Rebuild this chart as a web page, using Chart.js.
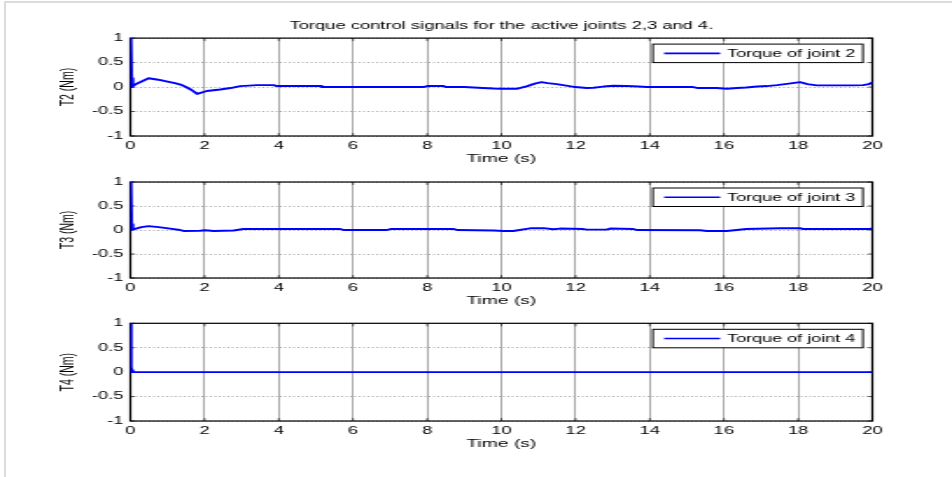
<!DOCTYPE html>
<html>
<head>
<meta charset="utf-8">
<title>Torque control signals</title>
<script src="https://cdn.jsdelivr.net/npm/chart.js@4.4.1/dist/chart.umd.min.js"></script>
<style>
  html, body { margin: 0; padding: 0; background: #fff; }
  #figure { position: relative; width: 952px; height: 477px; overflow: hidden; background: #fff; }
  #figure canvas { position: absolute; left: 0; }
  .edge-top { position: absolute; left: 4px; top: 1px; width: 948px; height: 2px; background: #dcdcdc; }
  .edge-left { position: absolute; left: 4px; top: 1px; width: 2px; height: 476px; background: #dcdcdc; }
</style>
</head>
<body>
<div id="figure">
  <div class="edge-top"></div>
  <div class="edge-left"></div>
  <!-- the original figure is stretched sideways, so the canvases are drawn narrow and widened by CSS -->
  <canvas id="plotT2" width="544" height="170" style="top:0px;width:952px;height:170px"></canvas>
  <canvas id="plotT3" width="544" height="143" style="top:170px;width:952px;height:143px"></canvas>
  <canvas id="plotT4" width="544" height="164" style="top:313px;width:952px;height:164px"></canvas>
</div>
<script>
// data
const timeT2 = [0, 0.01, 0.03, 0.05, 0.07, 0.2, 0.49, 0.75, 1.0, 1.2, 1.35, 1.5, 1.65, 1.8, 2.06, 2.42, 2.7, 2.96, 3.2, 3.41,
  3.86, 3.95, 5.12, 5.16, 7.9, 8.0, 8.44, 8.5, 9.0, 9.25, 9.5, 9.79, 10.0, 10.41, 10.7, 10.9, 11.08, 11.25, 11.49, 11.75,
  11.99, 12.3, 12.48, 12.75, 13.02, 13.38, 13.7, 13.92, 15.17, 15.3, 15.8, 16.08, 16.35, 16.6, 16.89, 17.15, 17.43, 17.75,
  18.05, 18.25, 18.5, 19.04, 19.5, 19.75, 19.9, 20.0];
const torqueT2 = [0, 1.0, 0.18, 0.0, 0.02, 0.08, 0.18, 0.15, 0.11, 0.08, 0.05, 0.0, -0.06, -0.14, -0.08, -0.05, -0.02, 0.02, 0.03, 0.04,
  0.04, 0.02, 0.02, 0.0, 0.0, 0.02, 0.02, 0.0, 0.0, -0.01, -0.02, -0.03, -0.035, -0.035, 0.02, 0.07, 0.1, 0.08, 0.06, 0.03,
  0.0, -0.02, -0.015, 0.01, 0.027, 0.02, 0.01, 0.0, 0.0, -0.02, -0.02, -0.035, -0.02, -0.01, 0.01, 0.02, 0.04, 0.07,
  0.1, 0.06, 0.035, 0.035, 0.035, 0.04, 0.06, 0.09];

const timeT3 = [0, 0.01, 0.03, 0.06, 0.1, 0.3, 0.49, 0.76, 1.07, 1.34, 1.43, 1.88, 2.0, 2.1, 2.24, 2.78, 3.05, 5.66, 5.75, 6.92,
  7.01, 8.72, 8.81, 9.79, 10.06, 10.32, 10.77, 11.13, 11.4, 11.58, 12.21, 12.3, 12.84, 12.93, 13.56, 13.65, 15.36, 15.54,
  16.08, 16.6, 17.5, 18.05, 18.14, 19.94, 20.0];
const torqueT3 = [0, 1.0, 0.12, 0.01, 0.02, 0.06, 0.08, 0.06, 0.03, 0.0, -0.02, -0.015, -0.005, -0.01, -0.02, -0.01, 0.02, 0.02, 0.0, 0.0,
  0.02, 0.02, 0.0, -0.01, -0.02, -0.02, 0.035, 0.04, 0.015, 0.03, 0.02, 0.007, 0.007, 0.03, 0.02, 0.0, -0.005, -0.02,
  -0.02, 0.02, 0.035, 0.04, 0.02, 0.02, 0.035];

const timeT4 = [0, 0.01, 0.02, 0.04, 0.06, 20.0];
const torqueT4 = [0, 1.0, 0.1, 0.04, 0.0, 0.0];

const xTicks = [0, 2, 4, 6, 8, 10, 12, 14, 16, 18, 20];
const xTickLabels = ['0', '2', '4', '6', '8', '10', '12', '14', '16', '18', '20'];
const yTicks = [-1, -0.5, 0, 0.5, 1];
const yTickLabels = ['-1', '-0.5', '0', '0.5', '1'];

const seriesLabels = ['Torque of joint 2', 'Torque of joint 3', 'Torque of joint 4'];
const yAxisTitles = ['T2 (Nm)', 'T3 (Nm)', 'T4 (Nm)'];
const chartTitle = 'Torque control signals for the active joints 2,3 and 4.';
const xAxisTitle = 'Time (s)';

const FONT = "'Liberation Sans', Arial, Helvetica, sans-serif";
Chart.defaults.color = '#000';
Chart.defaults.font.family = FONT;

// black box round the axes with small inward ticks on all four sides
const framePlugin = {
  id: 'frame',
  beforeDatasetsDraw(chart) {
    const { ctx, chartArea: a, scales: { x, y } } = chart;
    ctx.save();
    ctx.strokeStyle = '#333';
    ctx.lineWidth = 0.8;
    ctx.beginPath();
    xTicks.forEach(v => {
      const px = x.getPixelForValue(v);
      ctx.moveTo(px, a.top); ctx.lineTo(px, a.top + 3);
      ctx.moveTo(px, a.bottom); ctx.lineTo(px, a.bottom - 3);
    });
    yTicks.forEach(v => {
      const py = y.getPixelForValue(v);
      ctx.moveTo(a.left, py); ctx.lineTo(a.left + 2.5, py);
      ctx.moveTo(a.right, py); ctx.lineTo(a.right - 2.5, py);
    });
    ctx.stroke();
    ctx.strokeStyle = '#000';
    ctx.lineWidth = 1.2;
    ctx.strokeRect(a.left, a.top, a.right - a.left, a.bottom - a.top);
    ctx.restore();
  }
};

// boxed legend in the top right corner
const legendBoxPlugin = {
  id: 'legendBox',
  afterDatasetsDraw(chart) {
    const { ctx, chartArea: a } = chart;
    const ds = chart.data.datasets[0];
    const w = 120, h = 18.5;
    const left = a.right - 5.4 - w;
    const top = a.top + 6;
    ctx.save();
    ctx.fillStyle = '#fff';
    ctx.fillRect(left, top, w, h);
    ctx.strokeStyle = '#000';
    ctx.lineWidth = 1;
    ctx.strokeRect(left, top, w, h);
    ctx.strokeStyle = ds.borderColor;
    ctx.lineWidth = 1.6;
    ctx.beginPath();
    ctx.moveTo(left + 6.4, top + h / 2);
    ctx.lineTo(left + 38.4, top + h / 2);
    ctx.stroke();
    ctx.fillStyle = '#000';
    ctx.font = '10.3px ' + FONT;
    ctx.textBaseline = 'middle';
    ctx.fillText(ds.label, left + 42.4, top + h / 2 + 0.5);
    ctx.restore();
  }
};

function makeChart(canvasId, time, values, idx, padTop, padBottom, showTitle) {
  const points = time.map((t, i) => ({ x: t, y: values[i] }));
  return new Chart(document.getElementById(canvasId), {
    type: 'line',
    data: {
      datasets: [{
        label: seriesLabels[idx],
        data: points,
        borderColor: '#0000ff',
        borderWidth: 1.9,
        borderJoinStyle: 'round',
        pointRadius: 0,
        tension: 0,
        fill: false
      }]
    },
    options: {
      responsive: false,
      animation: false,
      devicePixelRatio: 1,
      layout: { padding: { left: 0, right: 45.5, top: padTop, bottom: padBottom } },
      plugins: {
        legend: { display: false },
        tooltip: { enabled: false },
        title: {
          display: showTitle,
          text: chartTitle,
          fullSize: false,
          color: '#000',
          font: { family: FONT, size: 10.5, weight: 'normal' },
          padding: { top: 19.5, bottom: 6 }
        }
      },
      scales: {
        x: {
          type: 'linear',
          min: 0,
          max: 20,
          afterBuildTicks: s => { s.ticks = xTicks.map(v => ({ value: v })); },
          afterFit: s => { s.height = 30; },
          grid: { color: '#a8a8a8', lineWidth: 1, drawTicks: false },
          border: { display: false },
          ticks: {
            padding: 4,
            maxRotation: 0,
            autoSkip: false,
            font: { family: FONT, size: 10.5 },
            callback: (v, i) => xTickLabels[i]
          },
          title: {
            display: true,
            text: xAxisTitle,
            font: { family: FONT, size: 11 },
            padding: { top: 0, bottom: 0 }
          }
        },
        y: {
          type: 'linear',
          min: -1,
          max: 1,
          afterBuildTicks: s => { s.ticks = yTicks.map(v => ({ value: v })); },
          afterFit: s => { s.width = 74.5; },
          grid: { color: '#a8a8a8', lineWidth: 1, drawTicks: false },
          border: { display: false, dash: [1, 1.5] },
          ticks: {
            padding: 4,
            font: { family: FONT, size: 10.5 },
            callback: (v, i) => yTickLabels[i]
          },
          title: {
            display: true,
            text: yAxisTitles[idx],
            font: { family: FONT, size: 10.5 },
            padding: { top: 32.5, bottom: 0 }
          }
        }
      }
    },
    plugins: [framePlugin, legendBoxPlugin]
  });
}

makeChart('plotT2', timeT2, torqueT2, 0, 0, 4, true);
makeChart('plotT3', timeT3, torqueT3, 1, 12, 5, false);
makeChart('plotT4', timeT4, torqueT4, 2, 10, 26, false);
</script>
</body>
</html>
